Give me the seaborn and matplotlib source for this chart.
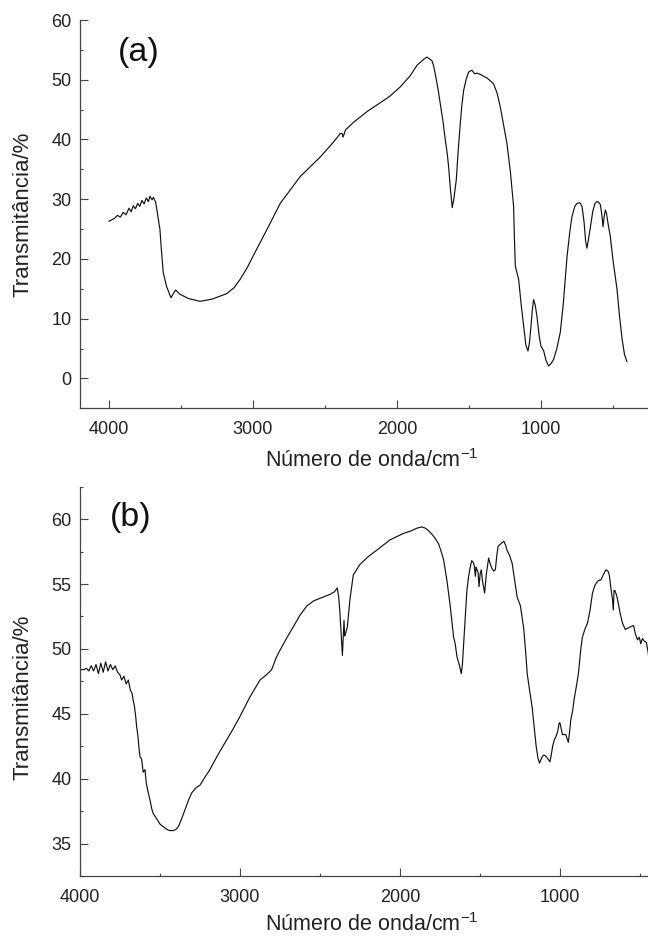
import seaborn as sns
import matplotlib.pyplot as plt
from matplotlib.ticker import MultipleLocator
import pandas as pd

# espectro (a)
wn_a = [4000, 3960, 3940, 3920, 3900, 3880, 3860, 3845, 3830, 3815, 3800, 3785, 3770, 3755,
        3740, 3725, 3715, 3700, 3690, 3675, 3668, 3655, 3645, 3635, 3622, 3599, 3580, 3568,
        3550, 3536, 3520, 3506, 3450, 3367, 3280, 3181, 3130, 3088, 3040, 3000, 2903, 2810,
        2671, 2531, 2450, 2392, 2380, 2374, 2365, 2357, 2300, 2200, 2100, 2046, 1977, 1907,
        1861, 1820, 1792, 1775, 1757, 1745, 1734, 1715, 1699, 1680, 1664, 1650, 1641, 1628,
        1616, 1605, 1588, 1575, 1560, 1550, 1537, 1520, 1502, 1480, 1460, 1444, 1420, 1400,
        1375, 1350, 1329, 1305, 1282, 1260, 1236, 1212, 1190, 1185, 1178, 1168, 1155, 1138,
        1120, 1105, 1090, 1080, 1069, 1060, 1051, 1040, 1028, 1012, 1000, 990, 981, 965,
        947, 930, 912, 890, 866, 845, 830, 819, 800, 785, 765, 750, 730, 715, 700, 690,
        681, 672, 657, 640, 625, 611, 600, 588, 578, 569, 562, 553, 545, 535, 519, 500,
        472, 455, 437, 420, 403]
tr_a = [26.3, 26.8, 27.3, 27.0, 27.8, 27.4, 28.5, 27.9, 28.9, 28.4, 29.3, 28.8, 29.8, 29.2,
        30.2, 29.6, 30.5, 29.9, 30.3, 29.5, 28.5, 26.5, 24.9, 21.5, 17.7, 15.4, 14.2, 13.5,
        14.3, 14.8, 14.4, 14.1, 13.4, 12.9, 13.3, 14.2, 15.2, 16.6, 18.5, 20.4, 24.9, 29.3,
        33.8, 37.1, 39.3, 41.0, 41.0, 40.4, 41.0, 41.6, 42.9, 44.8, 46.4, 47.3, 48.8, 50.7,
        52.4, 53.3, 53.8, 53.5, 53.2, 52.3, 51.0, 48.5, 46.0, 43.0, 39.9, 37.5, 35.4, 31.5,
        28.6, 30.0, 33.2, 38.0, 42.7, 45.5, 48.2, 50.0, 51.3, 51.6, 51.0, 51.1, 50.9, 50.6,
        50.3, 49.8, 49.3, 47.8, 45.4, 42.5, 39.3, 34.5, 28.8, 24.0, 18.8, 17.8, 16.6, 12.5,
        8.8, 5.6, 4.6, 6.0, 8.8, 11.5, 13.2, 12.3, 10.4, 7.0, 5.4, 5.0, 4.6, 3.0,
        2.1, 2.5, 3.2, 5.0, 7.7, 12.5, 17.0, 20.4, 24.5, 27.1, 28.8, 29.3, 29.4, 28.8, 26.0, 23.0,
        21.8, 23.0, 25.4, 28.0, 29.3, 29.6, 29.5, 29.1, 27.5, 25.4, 27.0, 28.2, 27.6, 26.0, 23.8, 19.8,
        14.9, 10.5, 6.6, 4.0, 2.8]

# espectro (b)
wn_b = [4000, 3980, 3960, 3945, 3930, 3915, 3900, 3885, 3870, 3855, 3840, 3825, 3810, 3795,
        3780, 3765, 3750, 3740, 3725, 3712, 3698, 3685, 3675, 3667, 3660, 3652, 3646, 3638,
        3630, 3625, 3615, 3605, 3594, 3585, 3573, 3560, 3550, 3542, 3520, 3500, 3480, 3458,
        3440, 3417, 3400, 3385, 3365, 3344, 3320, 3302, 3275, 3250, 3220, 3188, 3140, 3083,
        3040, 3000, 2938, 2875, 2835, 2802, 2775, 2750, 2710, 2667, 2625, 2583, 2540, 2500,
        2438, 2410, 2392, 2383, 2375, 2360, 2355, 2350, 2346, 2342, 2329, 2313, 2292, 2251,
        2200, 2146, 2063, 1979, 1930, 1895, 1864, 1840, 1812, 1785, 1759, 1745, 1728, 1707,
        1686, 1665, 1655, 1644, 1630, 1617, 1610, 1603, 1592, 1582, 1571, 1561, 1552, 1544,
        1537, 1529, 1524, 1519, 1512, 1506, 1499, 1492, 1485, 1471, 1460, 1446, 1435, 1425,
        1414, 1404, 1395, 1387, 1370, 1351, 1340, 1331, 1315, 1299, 1285, 1268, 1247, 1226,
        1215, 1205, 1190, 1174, 1160, 1149, 1138, 1128, 1115, 1104, 1094, 1080, 1063, 1055,
        1046, 1035, 1027, 1015, 1005, 1000, 992, 985, 964, 948, 940, 933, 920, 912,
        895, 885, 870, 860, 845, 828, 812, 797, 782, 766, 755, 745, 730, 713,
        700, 692, 680, 672, 667, 662, 657, 648, 640, 625, 610, 592, 575, 560,
        540, 530, 522, 515, 505, 495, 485, 473, 460, 450, 444]
tr_b = [48.4, 48.4, 48.5, 48.3, 48.7, 48.3, 48.8, 48.1, 48.9, 48.2, 49.0, 48.3, 48.8, 48.4,
        48.7, 48.2, 48.0, 47.6, 47.9, 47.3, 47.6, 46.8, 46.6, 46.0, 45.6, 44.8, 44.0, 43.3,
        42.2, 41.7, 41.5, 40.5, 40.7, 39.6, 38.9, 38.2, 37.6, 37.3, 36.9, 36.5, 36.3, 36.1,
        36.0, 36.0, 36.1, 36.3, 36.9, 37.6, 38.4, 38.9, 39.3, 39.5, 40.1, 40.7, 41.8, 43.0,
        43.9, 44.8, 46.3, 47.6, 48.0, 48.4, 49.3, 49.9, 50.8, 51.7, 52.6, 53.3, 53.7, 53.9,
        54.2, 54.4, 54.7, 54.0, 52.7, 49.5, 50.8, 52.2, 51.0, 51.1, 51.7, 53.8, 55.7, 56.5,
        57.1, 57.6, 58.4, 58.9, 59.1, 59.3, 59.4, 59.3, 59.0, 58.6, 58.1, 57.6, 56.9, 55.3,
        53.3, 50.9, 50.4, 49.4, 48.8, 48.1, 48.8, 50.2, 52.5, 54.5, 55.6, 56.3, 56.8, 56.7,
        56.5, 55.6, 56.3, 56.1, 55.9, 54.8, 55.8, 56.1, 55.3, 54.3, 55.8, 57.0, 56.5, 56.2,
        56.0, 56.1, 57.2, 57.9, 58.1, 58.3, 58.0, 57.6, 57.2, 56.6, 55.4, 54.0, 53.3, 51.5,
        49.8, 48.1, 46.8, 45.5, 43.8, 42.5, 41.6, 41.2, 41.6, 41.8, 41.8, 41.6, 41.3, 41.8,
        42.5, 43.0, 43.2, 43.6, 44.3, 44.3, 43.8, 43.4, 43.4, 42.8, 43.6, 44.5, 45.3, 46.1,
        47.3, 48.1, 50.0, 50.9, 51.5, 52.0, 53.0, 54.3, 54.9, 55.2, 55.3, 55.3, 55.7, 56.1,
        56.0, 55.7, 54.5, 53.8, 53.0, 54.5, 54.5, 54.2, 53.8, 52.8, 52.0, 51.5, 51.6, 51.7,
        51.8, 51.2, 50.9, 50.7, 50.9, 50.4, 50.8, 50.6, 50.5, 49.8, 49.2]

sns.set_style("ticks")
plt.rcParams['font.family'] = ['Liberation Sans', 'DejaVu Sans']
plt.rcParams['mathtext.fontset'] = 'custom'
plt.rcParams['mathtext.rm'] = 'Liberation Sans'
plt.rcParams['mathtext.it'] = 'Liberation Sans'

fig = plt.figure(figsize=(6.48, 9.43), dpi=100)
ax_a = fig.add_axes([80 / 648, 1 - 408.3 / 943, 568 / 648, 388.3 / 943])
ax_b = fig.add_axes([80 / 648, 1 - 876 / 943, 568 / 648, 389.3 / 943])

# ax, x, y, tag, xlim, ylim, major y, minor y, tag pos, ylabel y, xlabel y
panels = [
    (ax_a, wn_a, tr_a, '(a)', (4200, 257), (-5, 60), 10, 5, (0.104, 0.916), 0.5, -0.105),
    (ax_b, wn_b, tr_b, '(b)', (4000, 450), (32.5, 62.5), 5, 2.5, (0.09, 0.92), 0.46, -0.095),
]

spine_col = '#444444'
for ax, wn, tr, tag, xl, yl, ymaj, ymin, pos, ylab_y, xlab_y in panels:
    df = pd.DataFrame({'wn': wn, 'tr': tr})
    sns.lineplot(data=df, x='wn', y='tr', ax=ax, color='#111111', linewidth=0.85,
                 sort=False, estimator=None)
    ax.set_xlim(*xl)
    ax.set_ylim(*yl)
    ax.xaxis.set_major_locator(MultipleLocator(1000))
    ax.xaxis.set_minor_locator(MultipleLocator(500))
    ax.yaxis.set_major_locator(MultipleLocator(ymaj))
    ax.yaxis.set_minor_locator(MultipleLocator(ymin))
    ax.tick_params(which='major', direction='in', length=5.5, width=0.8, color=spine_col,
                   labelsize=13, labelcolor='#222222', pad=6)
    ax.tick_params(axis='x', which='major', pad=9)
    ax.tick_params(which='minor', direction='in', length=2.5, width=0.8, color=spine_col)
    for s in ['top', 'right']:
        ax.spines[s].set_visible(False)
    for s in ['left', 'bottom']:
        ax.spines[s].set_color(spine_col)
        ax.spines[s].set_linewidth(0.9)
    ax.set_xlabel('Número de onda/cm$^{-1}$', fontsize=15.5, color='#222222')
    ax.set_ylabel('Transmitância/%', fontsize=16, color='#222222')
    ax.xaxis.set_label_coords(0.514, xlab_y)
    ax.yaxis.set_label_coords(-0.082, ylab_y)
    ax.text(pos[0], pos[1], tag, transform=ax.transAxes, fontsize=24.5, color='#111111',
            ha='center', va='center')

fig.savefig('out.png', dpi=100)
